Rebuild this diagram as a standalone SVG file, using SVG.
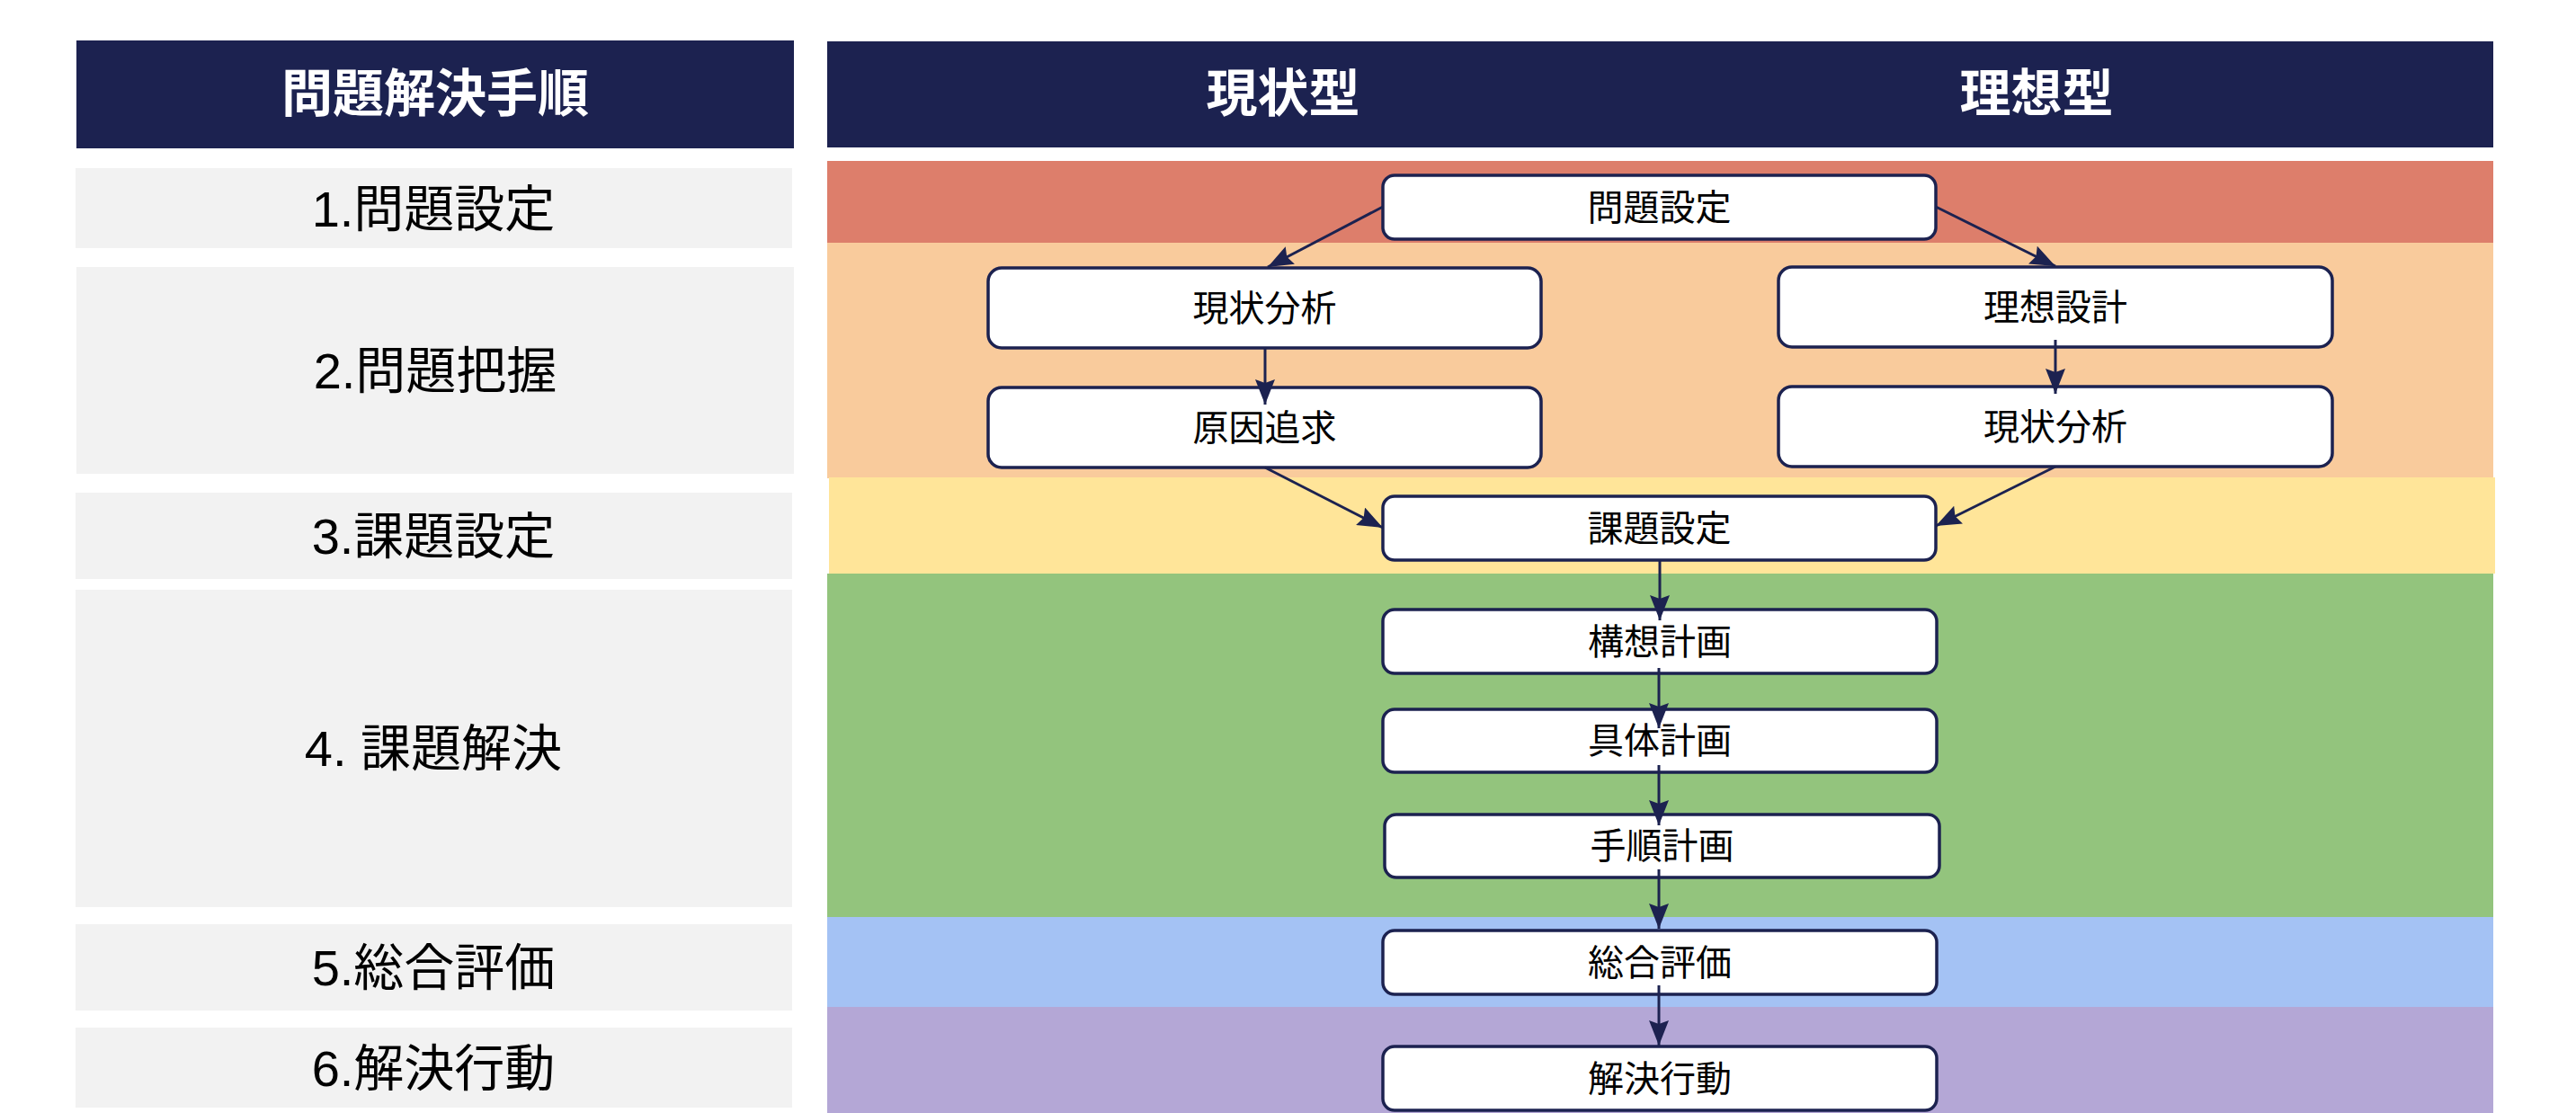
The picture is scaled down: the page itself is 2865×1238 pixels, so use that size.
<svg xmlns="http://www.w3.org/2000/svg" width="2865" height="1238" viewBox="0 0 2865 1238">
<style>
.hdr{fill:#1c2250}
.hdrt{font-family:"Liberation Sans","Noto Sans CJK JP",sans-serif;font-weight:bold;font-size:57px;fill:#ffffff;text-anchor:middle;dominant-baseline:central}
.row{fill:#f2f2f2}
.rowt{font-family:"Liberation Sans","Noto Sans CJK JP",sans-serif;font-size:56px;fill:#000000;text-anchor:middle;dominant-baseline:central}
.node{fill:#ffffff;stroke:#1c2250;stroke-width:3.5}
.nodet{font-family:"Liberation Sans","Noto Sans CJK JP",sans-serif;font-size:40px;fill:#000000;text-anchor:middle;dominant-baseline:central}
.edge{stroke:#1c2250;stroke-width:3;fill:none;marker-end:url(#arr)}
</style>
<defs>
<marker id="arr" markerUnits="userSpaceOnUse" markerWidth="30" markerHeight="22" refX="28" refY="11" orient="auto">
<path d="M0,0 L28,11 L0,22 L4,11 z" fill="#1c2250"/>
</marker>
</defs>
<rect width="2865" height="1238" fill="#ffffff"/>

<g id="header-left">
<rect class="hdr" x="85" y="45" width="798" height="120"/>
<text class="hdrt" x="484" y="104">問題解決手順</text>
</g>
<g id="header-right">
<rect class="hdr" x="920" y="46" width="1853" height="118"/>
<text class="hdrt" x="1427" y="104">現状型</text>
<text class="hdrt" x="2265" y="104">理想型</text>
</g>

<g id="bands">
<rect x="920" y="179" width="1853" height="91" fill="#dd7e6b"/>
<rect x="920" y="270" width="1853" height="262" fill="#f9cb9c"/>
<rect x="922" y="531" width="1853" height="107" fill="#ffe599"/>
<rect x="920" y="638" width="1853" height="382" fill="#93c47d"/>
<rect x="920" y="1020" width="1853" height="100" fill="#a4c2f4"/>
<rect x="920" y="1120" width="1853" height="118" fill="#b4a7d6"/>
</g>

<g id="step1"><rect class="row" x="84" y="187" width="797" height="89"/><text class="rowt" x="482" y="232">1.問題設定</text></g>
<g id="step2"><rect class="row" x="85" y="297" width="798" height="230"/><text class="rowt" x="484" y="412">2.問題把握</text></g>
<g id="step3"><rect class="row" x="84" y="548" width="797" height="96"/><text class="rowt" x="482" y="596">3.課題設定</text></g>
<g id="step4"><rect class="row" x="84" y="656" width="797" height="353"/><text class="rowt" x="482" y="832">4. 課題解決</text></g>
<g id="step5"><rect class="row" x="84" y="1028" width="797" height="96"/><text class="rowt" x="482" y="1076">5.総合評価</text></g>
<g id="step6"><rect class="row" x="84" y="1143" width="797" height="89"/><text class="rowt" x="482" y="1188">6.解決行動</text></g>

<g id="n-mondai"><rect class="node" x="1538" y="195" width="615" height="71" rx="13"/><text class="nodet" x="1845.5" y="230.5">問題設定</text></g>
<g id="n-genjo1"><rect class="node" x="1099" y="298" width="615" height="89" rx="15"/><text class="nodet" x="1406.5" y="342.5">現状分析</text></g>
<g id="n-genin"><rect class="node" x="1099" y="431" width="615" height="89" rx="15"/><text class="nodet" x="1406.5" y="475.5">原因追求</text></g>
<g id="n-riso"><rect class="node" x="1978" y="297" width="616" height="89" rx="15"/><text class="nodet" x="2286" y="341.5">理想設計</text></g>
<g id="n-genjo2"><rect class="node" x="1978" y="430" width="616" height="89" rx="15"/><text class="nodet" x="2286" y="474.5">現状分析</text></g>
<g id="n-kadai"><rect class="node" x="1538" y="552" width="615" height="71" rx="13"/><text class="nodet" x="1845.5" y="587.5">課題設定</text></g>
<g id="n-koso"><rect class="node" x="1538" y="678" width="616" height="71" rx="13"/><text class="nodet" x="1846" y="713.5">構想計画</text></g>
<g id="n-gutai"><rect class="node" x="1538" y="789" width="616" height="70" rx="13"/><text class="nodet" x="1846" y="824">具体計画</text></g>
<g id="n-tejun"><rect class="node" x="1540" y="906" width="617" height="70" rx="13"/><text class="nodet" x="1848.5" y="941">手順計画</text></g>
<g id="n-sogo"><rect class="node" x="1538" y="1035" width="616" height="71" rx="13"/><text class="nodet" x="1846" y="1070.5">総合評価</text></g>
<g id="n-kaiketsu"><rect class="node" x="1538" y="1164" width="616" height="71" rx="13"/><text class="nodet" x="1846" y="1199.5">解決行動</text></g>

<g id="connectors">
<line class="edge" x1="1538" y1="230" x2="1410" y2="297"/>
<line class="edge" x1="2153" y1="230" x2="2286" y2="296"/>
<line class="edge" x1="1407" y1="387" x2="1407" y2="450"/>
<line class="edge" x1="2286" y1="378" x2="2286" y2="438"/>
<line class="edge" x1="1407" y1="520" x2="1538" y2="587"/>
<line class="edge" x1="2286" y1="519" x2="2153" y2="585"/>
<line class="edge" x1="1846" y1="622" x2="1846" y2="690"/>
<line class="edge" x1="1845" y1="743" x2="1845" y2="810"/>
<line class="edge" x1="1845" y1="851" x2="1845" y2="918"/>
<line class="edge" x1="1845" y1="967" x2="1845" y2="1033"/>
<line class="edge" x1="1845" y1="1096" x2="1845" y2="1163"/>
</g>
</svg>
